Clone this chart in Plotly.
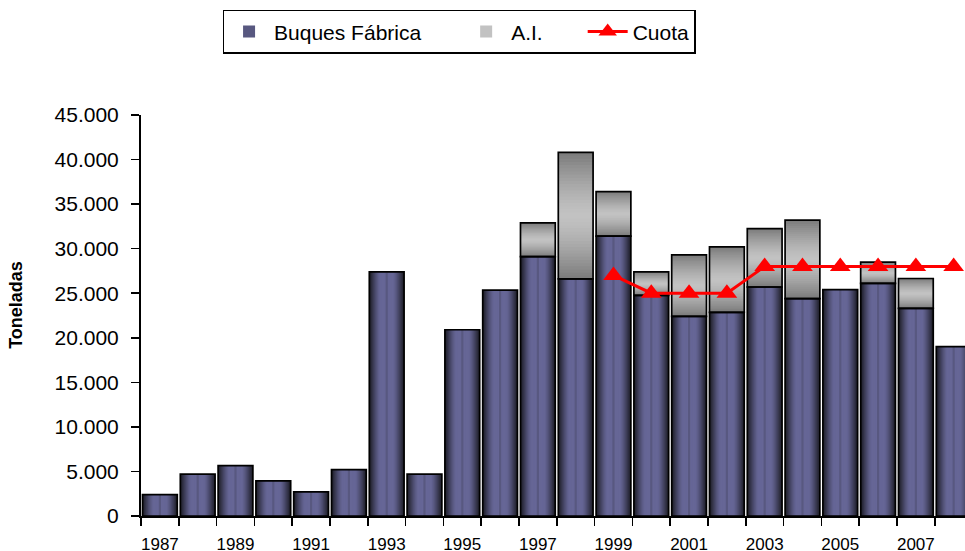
import plotly.graph_objects as go

# ---------------- data ----------------
years = list(range(1987, 2009))
buques = [2400, 4700, 5650, 3950, 2700, 5200, 27400, 4700, 20900, 25350, 29100,
          26600, 31400, 24750, 22400, 22850, 25700, 24400, 25400, 26100, 23300, 19000]
ai = [0, 0, 0, 0, 0, 0, 0, 0, 0, 0, 3800,
      14200, 5000, 2650, 6900, 7350, 6550, 8800, 0, 2400, 3350, 0]
cuota_years = list(range(1999, 2009))
cuota = [27000, 25000, 25000, 25000, 28000, 28000, 28000, 28000, 28000, 28000]
tick_years = list(range(1987, 2008, 2))
boundaries = [y - 0.5 for y in range(1987, 2010)]

FONT = "Arial, Liberation Sans, sans-serif"
BAR_W = 0.92
NB = "\u00a0"

def mix(c1, c2, t):
    return "rgb(%d,%d,%d)" % tuple(round(a + (b - a) * t) for a, b in zip(c1, c2))

fig = go.Figure()

# ---- Buques Fábrica: horizontal gradient built from nested bars ----
dark_b = (30, 30, 40)
light_b = (102, 102, 150)
N = 16
for k in range(N):
    d = 1 - k / N                 # outer half-width fraction of this layer
    t = 0.0 if d <= 0.4 else ((d - 0.4) / 0.6) ** 1.3
    col = mix(light_b, dark_b, t)
    is_leg = (k == N - 1)
    fig.add_trace(go.Bar(
        x=years, y=buques, width=BAR_W * d,
        marker=dict(color=col if not is_leg else mix(light_b, dark_b, 0.2),
                    line=dict(width=0)),
        name="Buques Fábrica" + NB * 6, showlegend=is_leg, legendrank=1,
        hoverinfo="skip"))

# ---- A.I.: vertical gradient built from overlapping slices ----
dark_a = (122, 122, 122)
light_a = (194, 194, 194)
M = 40
for j in range(M):
    p = (j + 0.5) / M
    dist = abs(p - 0.5) * 2
    col = mix(light_a, dark_a, dist ** 1.4)
    is_leg = (j == M // 2)
    fig.add_trace(go.Bar(
        x=years,
        y=[a * (1 - j / M) if a else None for a in ai],
        base=[b + a * j / M for a, b in zip(ai, buques)],
        width=BAR_W,
        marker=dict(color=col, line=dict(width=0)),
        name="A.I." + NB * 6, showlegend=is_leg, legendrank=2,
        hoverinfo="skip"))

# ---- outlines ----
fig.add_trace(go.Bar(
    x=years, y=buques, width=BAR_W,
    marker=dict(color="rgba(0,0,0,0)", line=dict(color="black", width=1.7)),
    showlegend=False, hoverinfo="skip"))
fig.add_trace(go.Bar(
    x=years, y=[a if a else None for a in ai], base=buques, width=BAR_W,
    marker=dict(color="rgba(0,0,0,0)", line=dict(color="black", width=1.7)),
    showlegend=False, hoverinfo="skip"))

# ---- Cuota ----
fig.add_trace(go.Scatter(
    x=cuota_years, y=cuota, mode="lines+markers", name="Cuota",
    line=dict(color="#FF0000", width=3),
    marker=dict(symbol="triangle-up", size=18, color="#FF0000"),
    legendrank=3, cliponaxis=False))

fig.update_layout(
    width=965, height=551,
    margin=dict(l=141, r=0, t=115, b=35, autoexpand=False),
    barmode="overlay",
    paper_bgcolor="white", plot_bgcolor="white",
    separators=",.",
    font=dict(family=FONT, color="black"),
    showlegend=True,
    legend=dict(orientation="h", x=0.386, xanchor="center", y=1.262, yanchor="top",
                bordercolor="black", borderwidth=1.5, bgcolor="white",
                font=dict(size=21, family=FONT), itemwidth=40,
                traceorder="normal"),
    annotations=[dict(text="<b>Toneladas</b>", xref="paper", yref="paper",
                      x=-0.152, y=0.526, xanchor="center", yanchor="middle",
                      showarrow=False, textangle=-90,
                      font=dict(size=18, family=FONT))],
)

fig.update_xaxes(
    range=[1986.5, 2008.3],
    tickmode="array", tickvals=tick_years, ticktext=[str(y) for y in tick_years],
    ticks="outside", ticklen=8, tickcolor="rgba(0,0,0,0)",
    minor=dict(tickmode="array", tickvals=boundaries, ticks="outside",
               ticklen=8, tickcolor="black", tickwidth=1.5),
    showline=True, linecolor="black", linewidth=2,
    showgrid=False, zeroline=False,
    tickfont=dict(size=17, family=FONT), ticklabelstandoff=4,
)
fig.update_yaxes(
    range=[0, 45000], dtick=5000, tick0=0, tickformat=",d",
    ticks="outside", ticklen=8, tickcolor="black", tickwidth=1.5,
    showline=True, linecolor="black", linewidth=2,
    showgrid=False, zeroline=False,
    tickfont=dict(size=21, family=FONT), ticklabelstandoff=8,
)

fig.write_html("out.html",
               config={"displayModeBar": False, "staticPlot": True},
               post_script="document.body.style.margin='0';"
                           "document.body.style.overflow='hidden';")
